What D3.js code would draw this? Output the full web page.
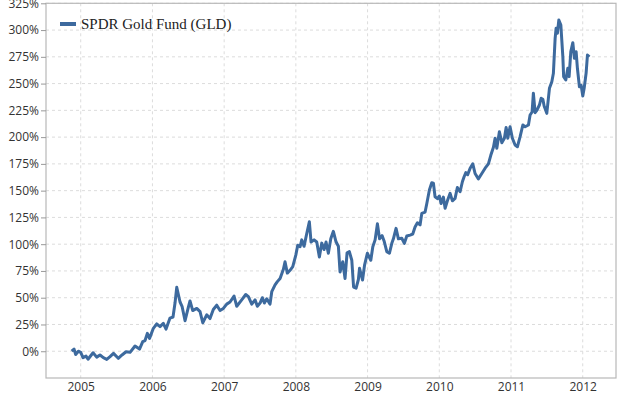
<!DOCTYPE html>
<html>
  <head>
    <meta charset="utf-8">
    <title>SPDR Gold Fund (GLD)</title>
    <script src="https://cdn.jsdelivr.net/npm/d3@7/dist/d3.min.js"></script>
    <style>
      body { margin: 0; background: #fff; }
      #chart { display: block; }
      .tick text { font-family: "Open Sans", sans-serif; font-size: 12px; fill: #333; }
      .grid line { stroke: #dcdcdc; stroke-dasharray: 3,3; }
      #legend text { font-family: "Liberation Serif", serif; font-size: 15px; fill: #222; }
    </style>
  </head>

  <body>
    <svg id="chart" width="622" height="400">
      <g id="gridX" class="grid"></g>
      <g id="gridY" class="grid"></g>
      <rect id="frame"></rect>
      <g id="axisX"></g>
      <g id="axisY"></g>
      <path id="line"></path>
      <g id="legend"></g>
    </svg>

    <script>
      // weekly closes, % change since launch
      years = [
        2004.874, 2004.907, 2004.930, 2004.967,
        2005.000, 2005.032, 2005.074, 2005.102, 2005.172, 2005.223, 2005.269, 2005.315, 2005.363, 2005.409,
        2005.457, 2005.524, 2005.576, 2005.632, 2005.688, 2005.757, 2005.820, 2005.865, 2005.897, 2005.929, 2005.960,
        2006.013, 2006.060, 2006.106, 2006.152, 2006.190, 2006.245, 2006.287, 2006.315, 2006.339, 2006.385,
        2006.413, 2006.455, 2006.497, 2006.524, 2006.562, 2006.618, 2006.664, 2006.702, 2006.757, 2006.803,
        2006.849, 2006.897, 2006.943, 2006.989,
        2007.036, 2007.082, 2007.138, 2007.176, 2007.245, 2007.301, 2007.338, 2007.385, 2007.431, 2007.463,
        2007.501, 2007.533, 2007.561, 2007.594, 2007.640, 2007.664, 2007.710, 2007.742, 2007.780, 2007.826,
        2007.849, 2007.881, 2007.919, 2007.957,
        2008.000, 2008.026, 2008.059, 2008.082, 2008.114, 2008.152, 2008.188, 2008.212, 2008.254, 2008.291,
        2008.328, 2008.361, 2008.393, 2008.421, 2008.453, 2008.487, 2008.523, 2008.561, 2008.593, 2008.616,
        2008.654, 2008.686, 2008.714, 2008.746, 2008.780, 2008.805, 2008.840, 2008.872, 2008.888, 2008.930,
        2008.958, 2008.997,
        2009.045, 2009.073, 2009.105, 2009.137, 2009.167, 2009.202, 2009.230, 2009.268, 2009.304, 2009.338,
        2009.360, 2009.397, 2009.430, 2009.477, 2009.513, 2009.547, 2009.593, 2009.630, 2009.662, 2009.695,
        2009.732, 2009.756, 2009.802, 2009.826, 2009.862, 2009.895, 2009.918, 2009.941, 2009.974,
        2010.001, 2010.025, 2010.057, 2010.081, 2010.113, 2010.151, 2010.183, 2010.220, 2010.252, 2010.290,
        2010.322, 2010.346, 2010.370, 2010.397, 2010.430, 2010.467, 2010.499, 2010.545, 2010.593, 2010.639,
        2010.685, 2010.718, 2010.755, 2010.778, 2010.802, 2010.838, 2010.872, 2010.908, 2010.932, 2010.955,
        2010.987,
        2011.019, 2011.057, 2011.089, 2011.127, 2011.165, 2011.197, 2011.243, 2011.266, 2011.294, 2011.312,
        2011.336, 2011.360, 2011.396, 2011.420, 2011.444, 2011.462, 2011.499, 2011.536, 2011.569, 2011.591,
        2011.615, 2011.629, 2011.647, 2011.667, 2011.695, 2011.723, 2011.734, 2011.764, 2011.792, 2011.810,
        2011.834, 2011.862, 2011.884, 2011.908, 2011.926, 2011.954, 2011.978,
        2012.001, 2012.020, 2012.047, 2012.066, 2012.093
      ];
      gldChange = [
        0, 2, -3, 0,
        -1, -6, -4.5, -7.5, -1.4, -5.5, -3.5, -6, -7.6, -5,
        -2, -6.6, -3.5, -0.5, -1, 4.9, 2, 9, 10, 16.7, 12,
        21.4, 25.5, 23, 26, 20.7, 31, 32, 45, 59.7, 46,
        42, 28.5, 40, 47, 38, 40, 37, 26.6, 34, 30.5,
        39, 43, 38, 40,
        44, 46, 51.5, 42, 48, 53, 51, 44, 48, 42,
        45, 50, 45, 49, 44, 55.6, 62, 65, 68, 76.5,
        83.6, 73, 75.6, 79,
        90, 99, 97.6, 104, 98, 110, 121, 102, 104, 102,
        88, 101, 95, 102, 91.5, 105, 112, 102, 98, 74,
        83.6, 68, 92, 93, 85, 60, 59, 67, 77.5, 66.5,
        80.5, 91.5,
        85, 97.6, 104, 119, 105, 108, 103, 93, 91.5, 100.8,
        105, 114.8, 105, 105.5, 100.8, 107.6, 108.5, 109.5, 116, 120,
        118, 128.8, 130, 138, 150.6, 157.4, 157, 144.3, 142.5,
        145, 138, 144, 133.5, 140.5, 147.5, 140.5, 142.8, 153, 149,
        158.3, 163, 166.8, 165, 171, 175, 166, 161, 166, 171,
        175, 183, 190.5, 199, 189.6, 205, 194.8, 199, 209, 199,
        209.7,
        199, 192.6, 191, 200.4, 211.3, 209.7, 211.3, 220.7, 223.5, 241,
        222.8, 225, 230, 236.3, 235.4, 229, 222.2, 245.6, 251.8, 259.6,
        292, 301.7, 297, 309.4, 304.7, 275, 256.5, 253.4, 264.3, 256.5,
        279.8, 288.2, 273.6, 279.8, 264.3, 247, 248.4,
        238.4, 245.6, 259.6, 276.7, 275
      ];
      xTicks = [2005, 2006, 2007, 2008, 2009, 2010, 2011, 2012];
      yTicks = [0, 25, 50, 75, 100, 125, 150, 175, 200, 225, 250, 275, 300, 325];
      seriesName = "SPDR Gold Fund (GLD)";

      width = 622;
      height = 400;
      margin = { top: 3.3, right: 6, bottom: 22, left: 46 };
      lineColour = "#3d6a9e";

      x = d3.scaleLinear()
        .domain([2004.516, 2012.464])
        .range([margin.left, width - margin.right]);
      y = d3.scaleLinear()
        .domain([-25, 325])
        .range([height - margin.bottom, margin.top]);

      // grid
      d3.select("#gridX").selectAll("line")
        .data(xTicks)
      .enter().append("line")
        .attr("x1", function(d) { return x(d); })
        .attr("x2", function(d) { return x(d); })
        .attr("y1", y.range()[1])
        .attr("y2", y.range()[0]);
      d3.select("#gridY").selectAll("line")
        .data(yTicks)
      .enter().append("line")
        .attr("x1", x.range()[0])
        .attr("x2", x.range()[1])
        .attr("y1", function(d) { return y(d); })
        .attr("y2", function(d) { return y(d); });

      d3.select("#frame")
        .attr("x", x.range()[0])
        .attr("y", y.range()[1])
        .attr("width", x.range()[1] - x.range()[0])
        .attr("height", y.range()[0] - y.range()[1])
        .attr("fill", "none")
        .attr("stroke", "#b8b8b8")
        .attr("stroke-width", 1.2);

      // axes
      axisX = d3.axisBottom(x)
        .tickValues(xTicks)
        .tickFormat(d3.format("d"))
        .tickSize(0)
        .tickPadding(4);
      d3.select("#axisX")
        .attr("transform", "translate(0," + y.range()[0] + ")")
        .call(axisX)
        .call(function(g) { g.select(".domain").remove(); });

      axisY = d3.axisLeft(y)
        .tickValues(yTicks)
        .tickFormat(function(d) { return d + "%"; })
        .tickSize(5)
        .tickPadding(2);
      d3.select("#axisY")
        .attr("transform", "translate(" + x.range()[0] + ",0)")
        .call(axisY)
        .call(function(g) {
          g.select(".domain").remove();
          g.selectAll(".tick line").attr("stroke", "#999");
        });

      // series
      line = d3.line()
        .x(function(d, i) { return x(years[i]); })
        .y(function(d) { return y(d); });
      d3.select("#line")
        .datum(gldChange)
        .attr("d", line)
        .attr("fill", "none")
        .attr("stroke", lineColour)
        .attr("stroke-width", 3)
        .attr("stroke-linejoin", "round");

      // legend
      legend = d3.select("#legend")
        .attr("transform", "translate(60,24)");
      legend.append("line")
        .attr("x1", 0)
        .attr("x2", 16)
        .attr("stroke", lineColour)
        .attr("stroke-width", 4);
      legend.append("text")
        .attr("x", 21)
        .attr("y", 5)
        .text(seriesName);
    </script>
  </body>
</html>
